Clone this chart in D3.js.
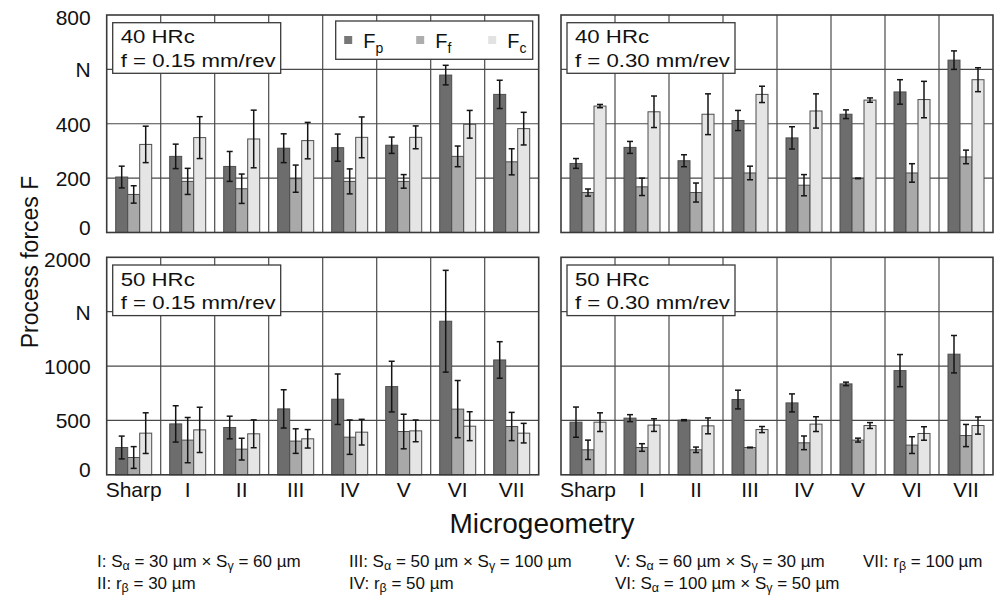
<!DOCTYPE html>
<html>
<head>
<meta charset="utf-8">
<script src="https://cdn.jsdelivr.net/npm/d3@7"></script>
<style>
  body { margin: 0; background: #fff; }
  svg { display: block; font-family: "Liberation Sans", Arial, sans-serif; }
</style>
</head>
<body>
<script>
// categories (microgeometry) and series
var categories = ["Sharp", "I", "II", "III", "IV", "V", "VI", "VII"];
var series = ["Fp", "Ff", "Fc"];
var seriesSub = ["p", "f", "c"];

// y ticks (the 4th tick is labelled with the unit "N")
var ticks40 = [0, 200, 400, 600, 800];
var ticks50 = [0, 500, 1000, 1500, 2000];

// 40 HRc, f = 0.15 mm/rev
var fp40_015 = [204, 280, 243, 310, 312, 321, 579, 508];
var fpErr40_015 = [40, 45, 55, 53, 50, 30, 36, 52];
var ff40_015 = [140, 188, 161, 198, 188, 188, 280, 260];
var ffErr40_015 = [32, 48, 54, 50, 46, 25, 38, 48];
var fc40_015 = [324, 349, 344, 338, 350, 350, 398, 382];
var fcErr40_015 = [67, 77, 106, 67, 75, 42, 51, 60];

// 40 HRc, f = 0.30 mm/rev
var fp40_030 = [254, 313, 264, 412, 348, 435, 517, 634];
var fpErr40_030 = [18, 22, 22, 37, 41, 16, 45, 34];
var ff40_030 = [147, 168, 147, 219, 174, 199, 219, 278];
var ffErr40_030 = [13, 32, 35, 25, 39, 1, 34, 25];
var fc40_030 = [465, 444, 435, 508, 447, 487, 489, 562];
var fcErr40_030 = [6, 58, 75, 30, 63, 8, 67, 44];

// 50 HRc, f = 0.15 mm/rev
var fp50_015 = [251, 468, 435, 606, 695, 811, 1412, 1056];
var fpErr50_015 = [105, 167, 104, 176, 232, 233, 468, 168];
var ff50_015 = [159, 319, 236, 310, 346, 398, 604, 444];
var ffErr50_015 = [100, 208, 100, 113, 158, 159, 263, 130];
var fc50_015 = [383, 413, 377, 331, 392, 404, 447, 383];
var fcErr50_015 = [187, 208, 128, 85, 118, 100, 133, 90];

// 50 HRc, f = 0.30 mm/rev
var fp50_030 = [484, 521, 502, 692, 661, 836, 958, 1109];
var fpErr50_030 = [139, 32, 5, 86, 83, 16, 148, 172];
var ff50_030 = [230, 251, 230, 251, 294, 319, 273, 361];
var ffErr50_030 = [89, 35, 25, 3, 63, 18, 77, 102];
var fc50_030 = [484, 457, 450, 416, 466, 453, 380, 453];
var fcErr50_030 = [86, 58, 73, 28, 68, 27, 62, 79];

// footnote lines, _{x} marks a subscript
var footnotes = [
    ["I: S_{α} = 30 µm × S_{γ} = 60 µm", "II: r_{β} = 30 µm"],
    ["III: S_{α} = 50 µm × S_{γ} = 100 µm", "IV: r_{β} = 50 µm"],
    ["V: S_{α} = 60 µm × S_{γ} = 30 µm", "VI: S_{α} = 100 µm × S_{γ} = 50 µm"],
    ["VII: r_{β} = 100 µm"]
];

var panels = [
    {row: 0, col: 0, hrc: "40 HRc", feed: "f = 0.15 mm/rev", ticks: ticks40,
     values: [fp40_015, ff40_015, fc40_015], errors: [fpErr40_015, ffErr40_015, fcErr40_015]},
    {row: 0, col: 1, hrc: "40 HRc", feed: "f = 0.30 mm/rev", ticks: ticks40,
     values: [fp40_030, ff40_030, fc40_030], errors: [fpErr40_030, ffErr40_030, fcErr40_030]},
    {row: 1, col: 0, hrc: "50 HRc", feed: "f = 0.15 mm/rev", ticks: ticks50,
     values: [fp50_015, ff50_015, fc50_015], errors: [fpErr50_015, ffErr50_015, fcErr50_015]},
    {row: 1, col: 1, hrc: "50 HRc", feed: "f = 0.30 mm/rev", ticks: ticks50,
     values: [fp50_030, ff50_030, fc50_030], errors: [fpErr50_030, ffErr50_030, fcErr50_030]}
];

var colors = ["#6d6d6d", "#a9a9a9", "#e5e5e5"];
var legendColors = ["#777777", "#adadad", "#e2e2e2"];
var colX = [106.7, 561];
var rowY = [15, 257.3];
var panelW = 432, panelH = 217.5;

var svg = d3.select("body").append("svg")
    .attr("width", 1008)
    .attr("height", 601);

panels.forEach(drawPanel);

function drawPanel(p) {
    var g = svg.append("g")
        .attr("transform", "translate(" + colX[p.col] + "," + rowY[p.row] + ")");

    var x = d3.scaleBand().domain(categories).range([0, panelW]);
    var xs = d3.scaleBand().domain(series).range([0, x.bandwidth()]).paddingOuter(0.75);
    var y = d3.scaleLinear().domain([0, d3.max(p.ticks)]).range([panelH, 0]);

    // grid
    g.selectAll(".hgrid")
        .data(p.ticks.slice(1, -1))
        .join("line")
            .attr("x1", 0).attr("x2", panelW)
            .attr("y1", function(d) { return y(d); })
            .attr("y2", function(d) { return y(d); })
            .attr("stroke", "#4a4a4a").attr("stroke-width", 1.2);
    g.selectAll(".vgrid")
        .data(categories.slice(1))
        .join("line")
            .attr("x1", function(d) { return x(d); })
            .attr("x2", function(d) { return x(d); })
            .attr("y1", 0).attr("y2", panelH)
            .attr("stroke", "#4a4a4a").attr("stroke-width", 1.2);

    var rows = [];
    categories.forEach(function(c, i) {
        series.forEach(function(s, j) {
            rows.push({cat: c, s: s, j: j, v: p.values[j][i], e: p.errors[j][i]});
        });
    });

    // bars
    g.selectAll(".bar")
        .data(rows)
        .join("rect")
            .attr("x", function(d) { return x(d.cat) + xs(d.s); })
            .attr("y", function(d) { return y(d.v); })
            .attr("width", xs.bandwidth())
            .attr("height", function(d) { return y(0) - y(d.v); })
            .attr("fill", function(d) { return colors[d.j]; })
            .attr("stroke", "#4d4d4d")
            .attr("stroke-width", 1);

    // error bars
    var eb = g.selectAll(".err")
        .data(rows)
        .join("g")
            .attr("transform", function(d) {
                return "translate(" + (x(d.cat) + xs(d.s) + xs.bandwidth() / 2) + ",0)";
            })
            .attr("stroke", "#151515")
            .attr("stroke-width", 1.5);
    eb.append("line")
        .attr("y1", function(d) { return y(d.v + d.e); })
        .attr("y2", function(d) { return y(d.v - d.e); });
    eb.append("line")
        .attr("x1", -3).attr("x2", 3)
        .attr("y1", function(d) { return y(d.v + d.e); })
        .attr("y2", function(d) { return y(d.v + d.e); });
    eb.append("line")
        .attr("x1", -3).attr("x2", 3)
        .attr("y1", function(d) { return y(d.v - d.e); })
        .attr("y2", function(d) { return y(d.v - d.e); });

    // frame
    g.append("rect")
        .attr("width", panelW).attr("height", panelH)
        .attr("fill", "none")
        .attr("stroke", "#3a3a3a").attr("stroke-width", 1.6);

    // y axis on left column
    if (p.col === 0) {
        var ya = g.append("g")
            .call(d3.axisLeft(y)
                .tickValues(p.ticks)
                .tickSize(0)
                .tickPadding(16)
                .tickFormat(function(d, i) { return i === 3 ? "N" : d; }));
        ya.select(".domain").remove();
        ya.selectAll("text")
            .attr("font-size", 21)
            .attr("font-family", "Liberation Sans, Arial, sans-serif")
            .attr("fill", "#111")
            .attr("dy", function(d, i) { return i === 4 ? "0.45em" : (i === 0 ? "0.1em" : "0.35em"); });
    }

    // x axis on bottom row
    if (p.row === 1) {
        var xa = g.append("g")
            .attr("transform", "translate(0," + panelH + ")")
            .call(d3.axisBottom(x).tickSize(0).tickPadding(7));
        xa.select(".domain").remove();
        xa.selectAll("text")
            .attr("font-size", 21)
            .attr("font-family", "Liberation Sans, Arial, sans-serif")
            .attr("fill", "#111");
    }

    // condition box
    var tb = g.append("g").attr("transform", "translate(6,7.7)");
    tb.append("rect")
        .attr("width", 168).attr("height", 50.6)
        .attr("fill", "#fff")
        .attr("stroke", "#3a3a3a").attr("stroke-width", 1.3);
    [p.hrc, p.feed].forEach(function(t, i) {
        tb.append("text")
            .attr("transform", "translate(8," + (20.6 + i * 23.3) + ") scale(1.17,1)")
            .attr("font-size", 19)
            .attr("fill", "#111")
            .text(t);
    });

    // legend in first panel
    if (p.row === 0 && p.col === 0) {
        var lg = g.append("g").attr("transform", "translate(229,6)");
        lg.append("rect")
            .attr("width", 197).attr("height", 38.3)
            .attr("fill", "#fff")
            .attr("stroke", "#3a3a3a").attr("stroke-width", 1.3);
        series.forEach(function(s, j) {
            var it = lg.append("g").attr("transform", "translate(" + (8.5 + j * 72) + ",0)");
            it.append("rect")
                .attr("x", 0).attr("y", 15)
                .attr("width", 8).attr("height", 8)
                .attr("fill", legendColors[j]);
            var t = it.append("text")
                .attr("x", 19).attr("y", 26.7)
                .attr("font-size", 20)
                .attr("fill", "#111");
            t.append("tspan").text("F");
            t.append("tspan")
                .attr("dy", 5).attr("font-size", 14)
                .text(seriesSub[j]);
        });
    }
}

// axis titles
svg.append("text")
    .attr("transform", "translate(38,262) rotate(-90)")
    .attr("text-anchor", "middle")
    .attr("font-size", 23)
    .attr("fill", "#111")
    .text("Process forces F");

svg.append("text")
    .attr("x", 542).attr("y", 533)
    .attr("text-anchor", "middle")
    .attr("font-size", 28)
    .attr("fill", "#111")
    .text("Microgeometry");

// footnotes
var footX = [97, 349, 615, 863];
footnotes.forEach(function(col, ci) {
    col.forEach(function(line, li) {
        var t = svg.append("text")
            .attr("x", footX[ci])
            .attr("y", 567 + li * 22)
            .attr("font-size", 17)
            .attr("fill", "#111");
        var shift = 0;
        line.split(/(_\{[^}]*\})/).forEach(function(part) {
            if (!part) return;
            var m = part.match(/^_\{(.*)\}$/);
            if (m) {
                t.append("tspan").attr("dy", 3).attr("font-size", 12.5).text(m[1]);
                shift = -3;
            } else {
                t.append("tspan").attr("dy", shift).text(part);
                shift = 0;
            }
        });
    });
});
</script>
</body>
</html>
